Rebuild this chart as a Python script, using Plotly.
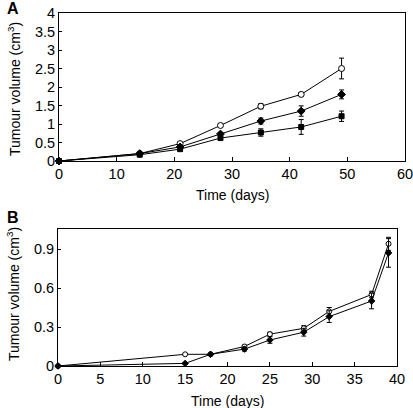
import plotly.graph_objects as go

# Panel A
a_days = [0, 14, 21, 28, 35, 42, 49]
a_open = [0, 0.20, 0.47, 0.96, 1.48, 1.80, 2.50]
a_open_err = [0, 0.02, 0.04, 0.04, 0.07, 0.05, 0.28]
a_diamond = [0, 0.20, 0.38, 0.73, 1.08, 1.35, 1.80]
a_diamond_err = [0, 0.02, 0.03, 0.04, 0.08, 0.14, 0.12]
a_square = [0, 0.17, 0.32, 0.62, 0.77, 0.92, 1.21]
a_square_err = [0, 0.02, 0.03, 0.04, 0.10, 0.20, 0.14]

# Panel B
b_days = [0, 15, 18, 22, 25, 29, 32, 37, 39]
b_open = [0, 0.09, 0.09, 0.15, 0.245, 0.29, 0.42, 0.55, 0.94]
b_open_err = [0, 0.005, 0.005, 0.01, 0.015, 0.02, 0.03, 0.025, 0.05]
b_filled = [0, 0.02, 0.09, 0.13, 0.20, 0.26, 0.38, 0.50, 0.87]
b_filled_err = [0, 0.005, 0.005, 0.015, 0.025, 0.03, 0.045, 0.06, 0.11]

fig = go.Figure()

def add(x, y, err, sym, fill, xa, ya, size=6):
    fig.add_trace(go.Scatter(
        x=x, y=y, mode="lines+markers", xaxis=xa, yaxis=ya,
        line=dict(color="black", width=1),
        marker=dict(symbol=sym, size=size, color=fill, line=dict(color="black", width=1)),
        error_y=dict(type="data", array=err, color="black", thickness=1, width=2.5),
        showlegend=False, cliponaxis=False))

add(a_days, a_open, a_open_err, "circle", "white", "x", "y")
add(a_days, a_diamond, a_diamond_err, "diamond", "black", "x", "y")
add(a_days, a_square, a_square_err, "square", "black", "x", "y", 5)
add(b_days, b_open, b_open_err, "circle", "white", "x2", "y2", 5)
add(b_days, b_filled, b_filled_err, "diamond", "black", "x2", "y2", 5)

W, H = 413, 408
L, R, T, B = 58, 8, 13, 42
PW, PH = W - L - R, H - T - B
FAM = "Liberation Sans, Arial, sans-serif"
tfont = dict(family=FAM, size=14.5, color="black")
axcommon = dict(showgrid=False, zeroline=False, showline=True, linecolor="black",
                linewidth=1, mirror=True, tickfont=tfont, color="black", automargin=False,
                ticklabeloverflow="allow", tickcolor="black", ticks="inside")

def px_x(p):
    return (p - L) / PW

def px_y(p):
    return 1 - (p - T) / PH

fig.update_layout(
    width=W, height=H, margin=dict(l=L, r=R, t=T, b=B, autoexpand=False),
    paper_bgcolor="white", plot_bgcolor="white", font=tfont,
    xaxis=dict(domain=[px_x(59), px_x(405)], range=[0, 60], tickvals=[0, 10, 20, 30, 40, 50, 60],
               ticklen=4, anchor="y", **axcommon),
    yaxis=dict(domain=[px_y(161), px_y(13)], range=[0, 4], tickvals=[0, 0.5, 1, 1.5, 2, 2.5, 3, 3.5, 4],
               ticktext=["0", "0.5", "1", "1.5", "2", "2.5", "3", "3.5", "4"], ticklen=3,
               anchor="x", **axcommon),
    xaxis2=dict(domain=[px_x(58), px_x(397)], range=[0, 40], tickvals=[0, 5, 10, 15, 20, 25, 30, 35, 40],
                ticklen=4, anchor="y2", **axcommon),
    yaxis2=dict(domain=[px_y(366), px_y(229)], range=[0, 1.054], tickvals=[0, 0.3, 0.6, 0.9],
                ticktext=["0", "0.3", "0.6", "0.9"], ticklen=3, anchor="x2", **axcommon),
)

def ann(text, xp, yp, angle=0, size=15, bold=False, xanchor="center", yanchor="middle"):
    fig.add_annotation(text=f"<b>{text}</b>" if bold else text, x=px_x(xp), y=px_y(yp),
                       xref="paper", yref="paper", xanchor=xanchor, yanchor=yanchor,
                       textangle=angle, showarrow=False,
                       font=dict(family=FAM, size=size, color="black"))

ann("A", 5, 8, size=16, bold=True, xanchor="left")
ann("B", 5, 217, size=16, bold=True, xanchor="left")
ann("Time (days)", 232, 195, size=14)
ann("Time (days)", 227, 401, size=14)
ann("Tumour volume (cm<sup>3</sup>)", 14, 89, angle=-90, size=14)
ann("Tumour volume (cm<sup>3</sup>)", 13, 294, angle=-90, size=14)

fig.write_html("out.html", config={"displayModeBar": False},
               post_script="document.body.style.margin='0px';")
